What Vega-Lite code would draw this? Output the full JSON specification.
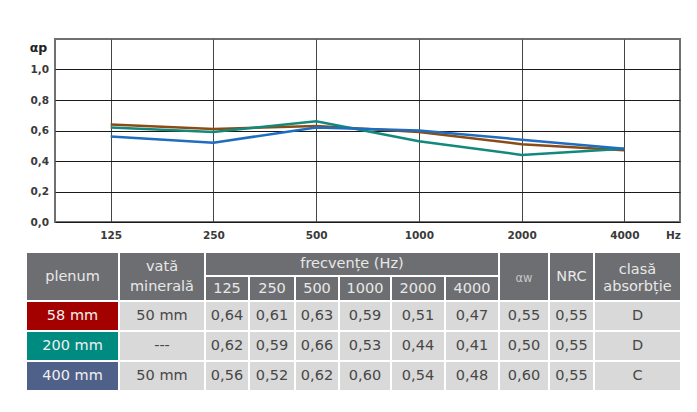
{
  "$schema": "https://vega.github.io/schema/vega-lite/v6.json",
  "autosize": "pad",
  "padding": {"left": 27, "top": 38, "right": 17, "bottom": 20},
  "background": "white",
  "config": {
    "view": {"stroke": null},
    "font": "DejaVu Sans",
    "locale": {"number": {"decimal": ",", "thousands": ".", "grouping": [3], "currency": ["", ""]}}
  },
  "datasets": {
    "curves": [
      {"s": "58 mm", "f": "125", "a": 0.64}, {"s": "58 mm", "f": "250", "a": 0.61}, {"s": "58 mm", "f": "500", "a": 0.63},
      {"s": "58 mm", "f": "1000", "a": 0.59}, {"s": "58 mm", "f": "2000", "a": 0.51}, {"s": "58 mm", "f": "4000", "a": 0.47},
      {"s": "200 mm", "f": "125", "a": 0.62}, {"s": "200 mm", "f": "250", "a": 0.59}, {"s": "200 mm", "f": "500", "a": 0.66},
      {"s": "200 mm", "f": "1000", "a": 0.53}, {"s": "200 mm", "f": "2000", "a": 0.44}, {"s": "200 mm", "f": "4000", "a": 0.48},
      {"s": "400 mm", "f": "125", "a": 0.56}, {"s": "400 mm", "f": "250", "a": 0.52}, {"s": "400 mm", "f": "500", "a": 0.62},
      {"s": "400 mm", "f": "1000", "a": 0.60}, {"s": "400 mm", "f": "2000", "a": 0.54}, {"s": "400 mm", "f": "4000", "a": 0.48}
    ],
    "table": [
      {"plenum": "58 mm", "vata": "50 mm", "f125": 0.64, "f250": 0.61, "f500": 0.63, "f1000": 0.59, "f2000": 0.51, "f4000": 0.47, "aw": 0.55, "nrc": 0.55, "clasa": "D"},
      {"plenum": "200 mm", "vata": "---", "f125": 0.62, "f250": 0.59, "f500": 0.66, "f1000": 0.53, "f2000": 0.44, "f4000": 0.41, "aw": 0.50, "nrc": 0.55, "clasa": "D"},
      {"plenum": "400 mm", "vata": "50 mm", "f125": 0.56, "f250": 0.52, "f500": 0.62, "f1000": 0.60, "f2000": 0.54, "f4000": 0.48, "aw": 0.60, "nrc": 0.55, "clasa": "C"}
    ]
  },
  "spacing": 11,
  "resolve": {"scale": {"color": "independent"}},
  "vconcat": [
    {
      "spacing": 0,
      "hconcat": [
        {
          "width": 1, "height": 1,
          "data": {"values": [{"k": 1}]},
          "mark": {"type": "rect", "opacity": 0}
        },
        {
          "width": 625,
          "height": 183,
          "data": {"name": "curves"},
          "view": {"stroke": "#707070", "strokeWidth": 2},
          "mark": {"type": "line", "strokeWidth": 2.5},
          "encoding": {
            "x": {
              "field": "f", "type": "ordinal", "sort": null,
              "scale": {"type": "point", "padding": 0.542},
              "axis": {
                "title": "Hz", "labelAngle": 0, "labelFont": "DejaVu Sans", "labelFontWeight": "bold", "labelFontSize": 10.5,
                "labelColor": "#3a3a3a", "labelPadding": 8, "ticks": false, "domain": false, "grid": true, "gridColor": "#444444", "gridWidth": 1,
                "titleX": 618, "titleY": 8, "titleAlign": "center", "titleBaseline": "top", "titleFont": "DejaVu Sans",
                "titleFontSize": 10.5, "titleFontWeight": "bold", "titleColor": "#3a3a3a"
              }
            },
            "y": {
              "field": "a", "type": "quantitative",
              "scale": {"domain": [0, 1.2], "nice": false},
              "axis": {
                "values": [0, 0.2, 0.4, 0.6, 0.8, 1.0], "format": ".1f",
                "title": "αp", "titleAngle": 0, "titleX": -17, "titleY": 8, "titleAlign": "center", "titleBaseline": "middle",
                "titleFont": "DejaVu Sans", "titleFontSize": 12.5, "titleFontWeight": "bold", "titleColor": "#222222",
                "ticks": false, "domain": false, "labelPadding": 6.5, "labelFont": "DejaVu Sans", "labelFontWeight": "bold",
                "labelFontSize": 10.5, "labelColor": "#3a3a3a", "grid": true, "gridColor": "#1a1a1a", "gridWidth": 1
              }
            },
            "color": {
              "field": "s", "type": "nominal",
              "scale": {"domain": ["58 mm", "200 mm", "400 mm"], "range": ["#8b4b17", "#13897b", "#1f6dbf"]},
              "legend": null
            }
          }
        }
      ]
    },
    {
      "spacing": 2,
      "vconcat": [
        {
          "spacing": 2,
          "hconcat": [
            {"width": 91, "height": 47, "data": {"values": [{"t": "plenum"}]}, "view": {"fill": "#6d6e71"},
             "mark": {"type": "text", "fontSize": 14.5, "color": "#e8e8e8"}, "encoding": {"text": {"field": "t"}}},
            {"width": 84, "height": 47, "data": {"values": [{"t": "vată\nminerală"}]}, "view": {"fill": "#6d6e71"},
             "mark": {"type": "text", "fontSize": 14.5, "color": "#e8e8e8", "lineBreak": "\n", "lineHeight": 20, "dy": -10}, "encoding": {"text": {"field": "t"}}},
            {
              "spacing": 2,
              "vconcat": [
                {"width": 292, "height": 22, "data": {"values": [{"t": "frecvențe (Hz)"}]}, "view": {"fill": "#6d6e71"},
                 "mark": {"type": "text", "fontSize": 14.5, "color": "#e8e8e8"}, "encoding": {"text": {"field": "t"}}},
                {
                  "spacing": 2,
                  "hconcat": [
                    {"width": 42, "height": 23, "data": {"values": [{"t": "125"}]}, "view": {"fill": "#6d6e71"},
                     "mark": {"type": "text", "fontSize": 14.5, "color": "#e8e8e8"}, "encoding": {"text": {"field": "t"}}},
                    {"width": 44, "height": 23, "data": {"values": [{"t": "250"}]}, "view": {"fill": "#6d6e71"},
                     "mark": {"type": "text", "fontSize": 14.5, "color": "#e8e8e8"}, "encoding": {"text": {"field": "t"}}},
                    {"width": 42, "height": 23, "data": {"values": [{"t": "500"}]}, "view": {"fill": "#6d6e71"},
                     "mark": {"type": "text", "fontSize": 14.5, "color": "#e8e8e8"}, "encoding": {"text": {"field": "t"}}},
                    {"width": 50, "height": 23, "data": {"values": [{"t": "1000"}]}, "view": {"fill": "#6d6e71"},
                     "mark": {"type": "text", "fontSize": 14.5, "color": "#e8e8e8"}, "encoding": {"text": {"field": "t"}}},
                    {"width": 52, "height": 23, "data": {"values": [{"t": "2000"}]}, "view": {"fill": "#6d6e71"},
                     "mark": {"type": "text", "fontSize": 14.5, "color": "#e8e8e8"}, "encoding": {"text": {"field": "t"}}},
                    {"width": 52, "height": 23, "data": {"values": [{"t": "4000"}]}, "view": {"fill": "#6d6e71"},
                     "mark": {"type": "text", "fontSize": 14.5, "color": "#e8e8e8"}, "encoding": {"text": {"field": "t"}}}
                  ]
                }
              ]
            },
            {"width": 48, "height": 47, "data": {"values": [{"t": "αw"}]}, "view": {"fill": "#6d6e71"},
             "mark": {"type": "text", "fontSize": 11.5, "color": "#c8c8c8", "dy": 2}, "encoding": {"text": {"field": "t"}}},
            {"width": 43, "height": 47, "data": {"values": [{"t": "NRC"}]}, "view": {"fill": "#6d6e71"},
             "mark": {"type": "text", "fontSize": 14.5, "color": "#e8e8e8"}, "encoding": {"text": {"field": "t"}}},
            {"width": 85, "height": 47, "data": {"values": [{"t": "clasă\nabsorbție"}]}, "view": {"fill": "#6d6e71"},
             "mark": {"type": "text", "fontSize": 14.5, "color": "#e8e8e8", "lineBreak": "\n", "lineHeight": 17, "dy": -7}, "encoding": {"text": {"field": "t"}}}
          ]
        },
        {
          "spacing": 2,
          "hconcat": [
            {"width": 91, "height": 88, "data": {"name": "table"},
             "encoding": {"y": {"field": "plenum", "type": "nominal", "sort": null, "axis": null, "scale": {"paddingInner": 0.0667, "paddingOuter": 0}}},
             "layer": [
               {"mark": {"type": "rect"}, "encoding": {"color": {"field": "plenum", "type": "nominal", "legend": null,
                 "scale": {"domain": ["58 mm", "200 mm", "400 mm"], "range": ["#a30000", "#008b80", "#4f6089"]}}}},
               {"mark": {"type": "text", "fontSize": 14.5, "color": "#f0f0f0"}, "encoding": {"text": {"field": "plenum"}}}
             ]},
            {"width": 84, "height": 88, "data": {"name": "table"},
             "encoding": {"y": {"field": "plenum", "type": "nominal", "sort": null, "axis": null, "scale": {"paddingInner": 0.0667, "paddingOuter": 0}}},
             "layer": [
               {"mark": {"type": "rect", "color": "#d9d9d9"}},
               {"mark": {"type": "text", "fontSize": 14.5, "color": "#474747"}, "encoding": {"text": {"field": "vata"}}}
             ]},
            {"width": 42, "height": 88, "data": {"name": "table"},
             "encoding": {"y": {"field": "plenum", "type": "nominal", "sort": null, "axis": null, "scale": {"paddingInner": 0.0667, "paddingOuter": 0}}},
             "layer": [
               {"mark": {"type": "rect", "color": "#d9d9d9"}},
               {"mark": {"type": "text", "fontSize": 14.5, "color": "#474747"}, "encoding": {"text": {"field": "f125", "type": "quantitative", "format": ".2f"}}}
             ]},
            {"width": 44, "height": 88, "data": {"name": "table"},
             "encoding": {"y": {"field": "plenum", "type": "nominal", "sort": null, "axis": null, "scale": {"paddingInner": 0.0667, "paddingOuter": 0}}},
             "layer": [
               {"mark": {"type": "rect", "color": "#d9d9d9"}},
               {"mark": {"type": "text", "fontSize": 14.5, "color": "#474747"}, "encoding": {"text": {"field": "f250", "type": "quantitative", "format": ".2f"}}}
             ]},
            {"width": 42, "height": 88, "data": {"name": "table"},
             "encoding": {"y": {"field": "plenum", "type": "nominal", "sort": null, "axis": null, "scale": {"paddingInner": 0.0667, "paddingOuter": 0}}},
             "layer": [
               {"mark": {"type": "rect", "color": "#d9d9d9"}},
               {"mark": {"type": "text", "fontSize": 14.5, "color": "#474747"}, "encoding": {"text": {"field": "f500", "type": "quantitative", "format": ".2f"}}}
             ]},
            {"width": 50, "height": 88, "data": {"name": "table"},
             "encoding": {"y": {"field": "plenum", "type": "nominal", "sort": null, "axis": null, "scale": {"paddingInner": 0.0667, "paddingOuter": 0}}},
             "layer": [
               {"mark": {"type": "rect", "color": "#d9d9d9"}},
               {"mark": {"type": "text", "fontSize": 14.5, "color": "#474747"}, "encoding": {"text": {"field": "f1000", "type": "quantitative", "format": ".2f"}}}
             ]},
            {"width": 52, "height": 88, "data": {"name": "table"},
             "encoding": {"y": {"field": "plenum", "type": "nominal", "sort": null, "axis": null, "scale": {"paddingInner": 0.0667, "paddingOuter": 0}}},
             "layer": [
               {"mark": {"type": "rect", "color": "#d9d9d9"}},
               {"mark": {"type": "text", "fontSize": 14.5, "color": "#474747"}, "encoding": {"text": {"field": "f2000", "type": "quantitative", "format": ".2f"}}}
             ]},
            {"width": 52, "height": 88, "data": {"name": "table"},
             "encoding": {"y": {"field": "plenum", "type": "nominal", "sort": null, "axis": null, "scale": {"paddingInner": 0.0667, "paddingOuter": 0}}},
             "layer": [
               {"mark": {"type": "rect", "color": "#d9d9d9"}},
               {"mark": {"type": "text", "fontSize": 14.5, "color": "#474747"}, "encoding": {"text": {"field": "f4000", "type": "quantitative", "format": ".2f"}}}
             ]},
            {"width": 48, "height": 88, "data": {"name": "table"},
             "encoding": {"y": {"field": "plenum", "type": "nominal", "sort": null, "axis": null, "scale": {"paddingInner": 0.0667, "paddingOuter": 0}}},
             "layer": [
               {"mark": {"type": "rect", "color": "#d9d9d9"}},
               {"mark": {"type": "text", "fontSize": 14.5, "color": "#474747"}, "encoding": {"text": {"field": "aw", "type": "quantitative", "format": ".2f"}}}
             ]},
            {"width": 43, "height": 88, "data": {"name": "table"},
             "encoding": {"y": {"field": "plenum", "type": "nominal", "sort": null, "axis": null, "scale": {"paddingInner": 0.0667, "paddingOuter": 0}}},
             "layer": [
               {"mark": {"type": "rect", "color": "#d9d9d9"}},
               {"mark": {"type": "text", "fontSize": 14.5, "color": "#474747"}, "encoding": {"text": {"field": "nrc", "type": "quantitative", "format": ".2f"}}}
             ]},
            {"width": 85, "height": 88, "data": {"name": "table"},
             "encoding": {"y": {"field": "plenum", "type": "nominal", "sort": null, "axis": null, "scale": {"paddingInner": 0.0667, "paddingOuter": 0}}},
             "layer": [
               {"mark": {"type": "rect", "color": "#d9d9d9"}},
               {"mark": {"type": "text", "fontSize": 14.5, "color": "#474747"}, "encoding": {"text": {"field": "clasa"}}}
             ]}
          ]
        }
      ]
    }
  ]
}
